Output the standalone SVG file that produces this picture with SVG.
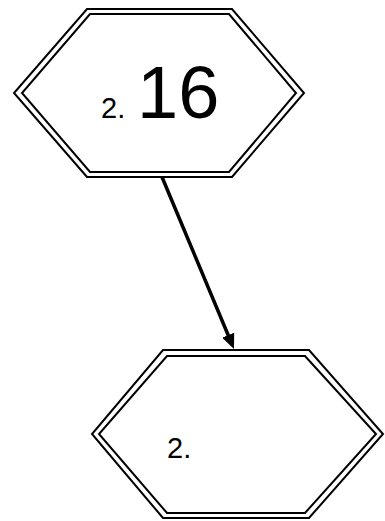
<svg xmlns="http://www.w3.org/2000/svg" width="385" height="521" viewBox="0 0 385 521">
<style>
.hex{fill:none;stroke:#000;stroke-width:2}
.t{font-family:"Liberation Sans",Arial,sans-serif;fill:#000}
</style>
<defs>
<marker id="ah" viewBox="0 0 15 13" refX="5" refY="6.5" markerWidth="15" markerHeight="13" orient="auto" markerUnits="userSpaceOnUse">
<path d="M0,0 L15,6.5 L0,13 z" fill="#000"/>
</marker>
</defs>
<rect width="385" height="521" fill="#fff"/>
<g id="connectors">
<line x1="162" y1="177" x2="230.1" y2="339.8" stroke="#000" stroke-width="3.5" marker-end="url(#ah)"/>
</g>
<g id="node1">
<polygon class="hex" points="87,9 232,9 304,93 232,177 87,177 14,93"/>
<polygon class="hex" points="90,14 229,14 296,93 229,172 90,172 22,93"/>
<text class="t" x="101" y="118" font-size="29">2.</text>
<text class="t" x="137" y="118" font-size="74">16</text>
</g>
<g id="node2">
<polygon class="hex" points="163,350 309,350 383,434 309,518 163,518 92,434"/>
<polygon class="hex" points="167,356 305,356 376,434 305,513 167,513 99,434"/>
<text class="t" x="167" y="458" font-size="29">2.</text>
</g>
</svg>
